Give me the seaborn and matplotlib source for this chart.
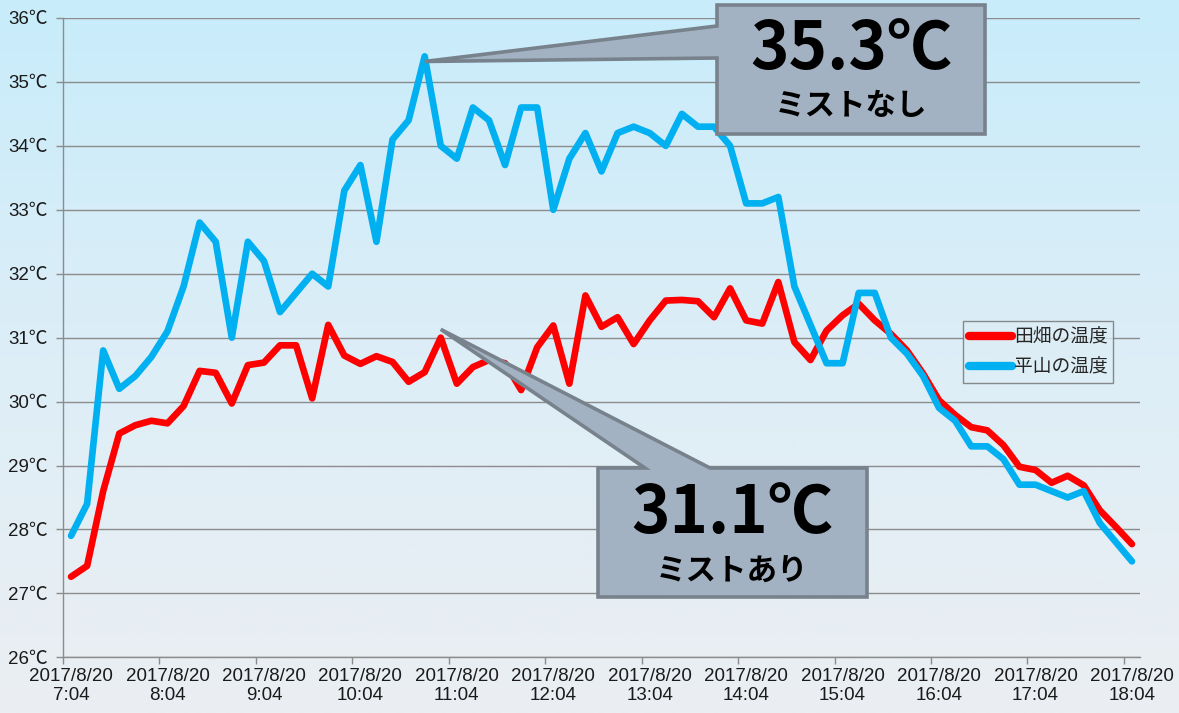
import numpy as np
import pandas as pd
import matplotlib
matplotlib.use("Agg")
import matplotlib.pyplot as plt
from matplotlib.patches import Polygon
from matplotlib.colors import LinearSegmentedColormap
import seaborn as sns

# 10-minute readings, 2017/8/20 7:04 - 18:04
tanbata = [27.26, 27.43, 28.6, 29.5, 29.63, 29.7, 29.66, 29.93, 30.48, 30.45,
           29.97, 30.57, 30.61, 30.88, 30.88, 30.05, 31.2, 30.72, 30.59, 30.71,
           30.62, 30.31, 30.46, 31.0, 30.28, 30.54, 30.65, 30.6, 30.18, 30.85,
           31.19, 30.28, 31.66, 31.17, 31.32, 30.9, 31.27, 31.58, 31.59, 31.57,
           31.32, 31.77, 31.27, 31.22, 31.87, 30.93, 30.65, 31.11, 31.35, 31.53,
           31.27, 31.06, 30.8, 30.44, 30.02, 29.79, 29.6, 29.55, 29.32, 28.98,
           28.93, 28.73, 28.84, 28.69, 28.3, 28.04, 27.77]
hirayama = [27.9, 28.4, 30.8, 30.2, 30.4, 30.7, 31.1, 31.8, 32.8, 32.5,
            31.0, 32.5, 32.2, 31.4, 31.7, 32.0, 31.8, 33.3, 33.7, 32.5,
            34.1, 34.4, 35.4, 34.0, 33.8, 34.6, 34.4, 33.7, 34.6, 34.6,
            33.0, 33.8, 34.2, 33.6, 34.2, 34.3, 34.2, 34.0, 34.5, 34.3,
            34.3, 34.0, 33.1, 33.1, 33.2, 31.8, 31.2, 30.6, 30.6, 31.7,
            31.7, 31.0, 30.75, 30.4, 29.9, 29.7, 29.3, 29.3, 29.1, 28.7,
            28.7, 28.6, 28.5, 28.6, 28.1, 27.8, 27.5]
series_names = ["田畑の温度", "平山の温度"]
series_colors = ["#FF0000", "#00B0F0"]
hour_labels = ["7:04", "8:04", "9:04", "10:04", "11:04", "12:04",
               "13:04", "14:04", "15:04", "16:04", "17:04", "18:04"]
date_label = "2017/8/20"
y_ticks = [26, 27, 28, 29, 30, 31, 32, 33, 34, 35, 36]
callout_hi = ("35.3℃", "ミストなし")
callout_lo = ("31.1℃", "ミストあり")

n = len(tanbata)
df = pd.DataFrame({
    "idx": list(range(n)) * 2,
    "temp": tanbata + hirayama,
    "series": [series_names[0]] * n + [series_names[1]] * n,
})

sns.set_style("white")
plt.rcParams["font.family"] = ["Liberation Sans", "Noto Sans CJK JP", "DejaVu Sans"]

W, H = 1179, 713
fig = plt.figure(figsize=(W / 100, H / 100), dpi=100)

# background gradient over the whole figure
bg = fig.add_axes([0, 0, 1, 1], zorder=-10)
cmap = LinearSegmentedColormap.from_list("bg", ["#C8ECFB", "#DDEEF7", "#EBEEF2"])
bg.imshow(np.linspace(0, 1, 256).reshape(-1, 1), aspect="auto", cmap=cmap,
          extent=[0, 1, 0, 1])
bg.axis("off")

ax = fig.add_axes([63 / W, 1 - 657.3 / H, (1140 - 63) / W, (657.3 - 18) / H])
ax.patch.set_alpha(0)

sns.lineplot(data=df, x="idx", y="temp", hue="series", hue_order=series_names,
             palette=series_colors, linewidth=4.8, ax=ax, legend=False,
             errorbar=None, zorder=3)

ax.set_xlim(-0.5, n - 0.5)
ax.set_ylim(26, 36)
ax.set_yticks(y_ticks)
ax.set_yticklabels([f"{v}℃" for v in y_ticks], fontsize=13.5, color="#1A1A1A")
ax.set_xticks(np.arange(len(hour_labels)) * 6 - 0.5)
ax.set_xticklabels([])
ax.set_xticks(np.arange(len(hour_labels)) * 6, minor=True)
ax.set_xticklabels([f"{date_label}\n{h}" for h in hour_labels], minor=True,
                   fontsize=13.5, color="#1A1A1A", linespacing=1.1)
ax.tick_params(axis="x", which="major", length=5, width=1, color="#8C8C8C",
               direction="out", bottom=True)
ax.tick_params(axis="x", which="minor", length=0, pad=8)
ax.tick_params(axis="y", length=5, width=1, color="#8C8C8C", direction="out",
               left=True, pad=6)
ax.set_xlabel("")
ax.set_ylabel("")
ax.yaxis.grid(True, color="#8C8C8C", linewidth=1.0)
ax.xaxis.grid(False)
for s in ["top", "right"]:
    ax.spines[s].set_visible(False)
for s in ["left", "bottom"]:
    ax.spines[s].set_color("#8C8C8C")
    ax.spines[s].set_linewidth(1.0)

handles = [plt.Line2D([], [], color=c, linewidth=6, solid_capstyle="round")
           for c in series_colors]
leg = ax.legend(handles, series_names, loc="upper left",
                bbox_to_anchor=(963 / W, 1 - 320.5 / H),
                bbox_transform=fig.transFigure, borderaxespad=0,
                frameon=True, fancybox=False, handlelength=2.3,
                handletextpad=0.12, labelspacing=0.5, borderpad=0.3,
                prop={"family": ["Noto Sans CJK JP"], "size": 13.5})
leg.get_frame().set_edgecolor("#707070")
leg.get_frame().set_linewidth(1.0)
leg.get_frame().set_facecolor("#DDEEF6")
leg.set_zorder(6)


def px(x, y):
    return (x / W, 1 - y / H)


def data_px(x, y):
    dx, dy = ax.transData.transform((x, y))
    return dx / fig.dpi * 100, H - dy / fig.dpi * 100


fig.canvas.draw()
i_hi = int(np.argmax(hirayama))
tip_hi = data_px(i_hi, hirayama[i_hi] - 0.08)
tip_lo = data_px(23, tanbata[23] + 0.13)

box_face = "#A3B2C2"
box_edge = "#78828D"
poly_hi = [(717, 5), (985, 5), (985, 134), (717, 134), (717, 58), tip_hi, (717, 26)]
poly_lo = [(598, 468), (645, 468), tip_lo, (710, 468), (867, 468), (867, 597), (598, 597)]
for pts in (poly_hi, poly_lo):
    fig.add_artist(Polygon([px(*p) for p in pts], closed=True,
                           transform=fig.transFigure, facecolor=box_face,
                           edgecolor=box_edge, linewidth=2.6, joinstyle="miter",
                           zorder=5))

cjk = ["Noto Sans CJK JP", "DejaVu Sans"]
for (big, small), cx, cy_big, cy_small in [(callout_hi, 851, 49, 106),
                                           (callout_lo, 732, 514, 572)]:
    fig.text(*px(cx, cy_big), big, ha="center", va="center", fontsize=47,
             fontweight="bold", family=cjk, color="#000000", zorder=7)
    fig.text(*px(cx, cy_small), small, ha="center", va="center", fontsize=22,
             fontweight="bold", family=cjk, color="#000000", zorder=7)

fig.savefig("out.png", dpi=100)
